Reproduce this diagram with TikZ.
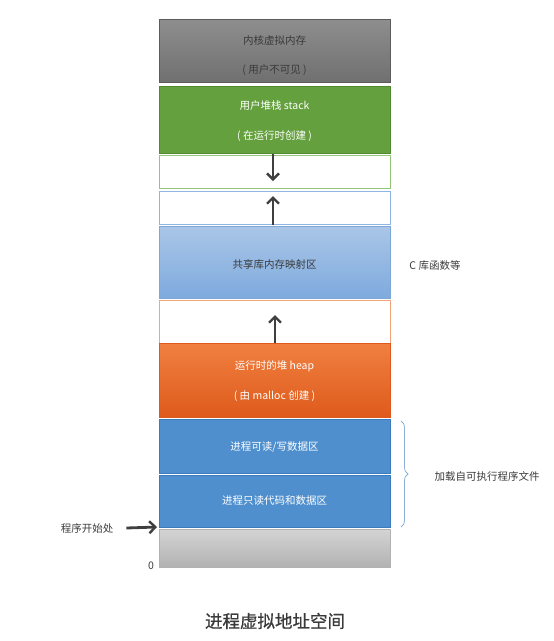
\documentclass[tikz,border=0pt]{standalone}
\usepackage{fontspec}
\setmainfont{Noto Sans CJK SC}
\newfontfamily\captionfont[FakeBold=0.8]{Noto Sans CJK SC}
\usetikzlibrary{arrows.meta,decorations.pathreplacing}

\definecolor{txtdark}{HTML}{3A3A3A}
\definecolor{arrowgray}{HTML}{3F3F3F}
\definecolor{kerntop}{HTML}{8E8E8E}
\definecolor{kernbot}{HTML}{707070}
\definecolor{kernline}{HTML}{5C5C5C}
\definecolor{stackfill}{HTML}{64A03D}
\definecolor{stackline}{HTML}{4F8A2E}
\definecolor{gapgreen}{HTML}{93C47A}
\definecolor{gapblue}{HTML}{8DB6E2}
\definecolor{gaporange}{HTML}{F2A77A}
\definecolor{libtop}{HTML}{AAC6E7}
\definecolor{libbot}{HTML}{7EAADE}
\definecolor{libline}{HTML}{7FA7D5}
\definecolor{heaptop}{HTML}{F08040}
\definecolor{heapbot}{HTML}{DE5A1C}
\definecolor{segblue}{HTML}{4F8FCD}
\definecolor{segblueline}{HTML}{3C7BBD}
\definecolor{lowtop}{HTML}{D4D4D4}
\definecolor{lowbot}{HTML}{B2B2B2}
\definecolor{bracecol}{HTML}{8EB0D8}

\tikzset{
  seg/.style={minimum width=231pt, inner sep=0pt, outer sep=0pt, line width=0.8pt},
  segtext/.style={font=\fontsize{10.5}{12}\selectfont, align=center, inner sep=0pt},
  memarrow/.style={arrowgray, line width=2.8pt, -{Straight Barb[length=6pt,width=12pt,line width=2.4pt]}},
  sidelabel/.style={text=txtdark, font=\fontsize{10.5}{12}\selectfont, inner sep=0pt}
}

\begin{document}
\begin{tikzpicture}[x=1pt,y=-1pt]
\useasboundingbox (0,0) rectangle (554,641);

% address space segments, top (high addresses) to bottom
\node[seg, minimum height=63pt, top color=kerntop, bottom color=kernbot, draw=kernline] (kern) at (274.5,50.5) {};
\node[seg, minimum height=67pt, fill=stackfill, draw=stackline] (stack) at (274.5,119.5) {};
\node[seg, minimum height=33pt, fill=white, draw=gapgreen] (gapa) at (274.5,171.5) {};
\node[seg, minimum height=33pt, fill=white, draw=gapblue] (gapb) at (274.5,207.5) {};
\node[seg, minimum height=72pt, top color=libtop, bottom color=libbot, draw=libline] (shlib) at (274.5,262) {};
\node[seg, minimum height=43pt, fill=white, draw=gaporange] (gapc) at (274.5,321.5) {};
\node[seg, minimum height=74pt, top color=heaptop, bottom color=heapbot, draw=heapbot] (heap) at (274.5,380.5) {};
\node[seg, minimum height=54pt, fill=segblue, draw=segblueline] (rw) at (274.5,446) {};
\node[seg, minimum height=52pt, fill=segblue, draw=segblueline] (ro) at (274.5,501) {};
\node[seg, minimum height=38pt, top color=lowtop, bottom color=lowbot, draw=lowbot] (low) at (274.5,548) {};

% segment captions
\node[segtext, text=txtdark] (kernA) at ([yshift=10pt]kern.center) {内核虚拟内存};
\node[segtext, text=txtdark] (kernB) at ([yshift=-20pt]kern.center) {( 用户不可见 )};
\node[segtext, text=white] (stackA) at ([yshift=13.5pt]stack.center) {用户堆栈 stack};
\node[segtext, text=white] (stackB) at ([yshift=-16.5pt]stack.center) {( 在运行时创建 )};
\node[segtext, text=txtdark] (shlibA) at ([yshift=-2pt]shlib.center) {共享库内存映射区};
\node[segtext, text=white] (heapA) at ([yshift=14.5pt]heap.center) {运行时的堆 heap};
\node[segtext, text=white] (heapB) at ([yshift=-15.5pt]heap.center) {( 由 malloc 创建 )};
\node[segtext, text=white] (rwA) at ([yshift=-1pt]rw.center) {进程可读/写数据区};
\node[segtext, text=white] (roA) at (ro.center) {进程只读代码和数据区};

% growth directions of stack, mapped area and heap
\draw[memarrow] ([yshift=1.5pt]gapa.north -| 273,0) -- ([yshift=7pt]gapa.south -| 273,0);
\draw[memarrow] ([yshift=-1pt]gapb.south -| 273,0) -- ([yshift=-5pt]gapb.north -| 273,0);
\draw[memarrow] (gapc.south -| 275,0) -- ([yshift=-15pt]gapc.north -| 275,0);

% side annotations
\node[sidelabel] (clib) at (435,266) {C 库函数等};
\node[sidelabel] (start) at (87,528) {程序开始处};
\draw[memarrow] ([xshift=13pt]start.east) -- ([xshift=-2pt]ro.south west);
\node[sidelabel] (zero) at (151,566) {0};

\coordinate (bracetop) at (401,421);
\coordinate (bracebot) at (401,527);
\draw[bracecol, line width=0.8pt, decorate, decoration={brace, amplitude=7pt}]
  (bracetop) -- (bracebot);
\node[sidelabel] (exe) at (487,476) {加载自可执行程序文件};

% caption
\node[text=txtdark, font=\captionfont\fontsize{17.5}{20}\selectfont, inner sep=0pt] (title) at (275,621) {进程虚拟地址空间};
\end{tikzpicture}
\end{document}
